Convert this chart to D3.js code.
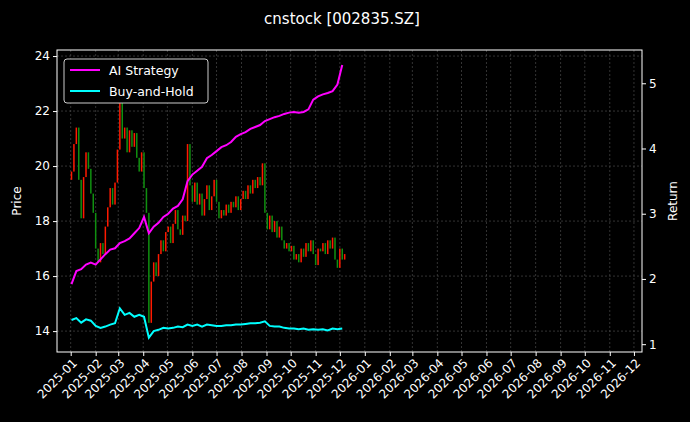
<!DOCTYPE html>
<html><head><meta charset="utf-8">
<script src="https://cdn.jsdelivr.net/npm/d3@7"></script>
<style>
body{margin:0;background:#000}
text{font-family:"DejaVu Sans",sans-serif;fill:#fff}
.grid line{stroke:#555;stroke-dasharray:2,2;stroke-width:0.6}
</style></head><body>
<script>
// daily-ish closes, one every 3 calendar days from 2025-01-02
const closes = [19.8,20.8,21.4,19.5,18.1,19.6,20.5,19.9,19.0,18.3,17.0,16.5,17.2,16.8,17.8,18.5,19.2,18.6,19.4,20.6,
  22.5,21.0,21.4,20.5,21.3,20.7,21.2,20.3,19.8,20.5,19.2,18.3,14.3,15.8,16.5,16.0,16.8,17.3,16.9,17.6,
  17.8,17.2,17.9,18.4,17.7,17.5,18.2,18.0,20.8,19.3,18.7,19.4,18.6,19.0,18.2,18.8,19.3,18.4,18.9,19.5,
  18.7,18.1,18.4,18.2,18.6,18.3,18.7,18.5,18.9,18.4,18.8,19.1,18.8,19.3,19.0,19.5,19.2,19.6,19.3,20.1,
  18.3,17.7,18.2,17.6,18.0,17.4,17.8,17.3,17.0,17.2,16.9,17.1,16.6,16.8,16.5,17.0,16.7,17.2,16.9,17.3,
  16.8,16.4,17.0,16.9,17.2,16.8,17.3,17.0,17.4,16.6,16.3,17.0,16.6,16.8];
// returns, one every 6 days from 2025-01-02
const aiStrategy = [1.92,2.12,2.15,2.22,2.25,2.22,2.3,2.38,2.45,2.47,2.55,2.58,2.62,2.7,2.78,2.95,2.7,2.8,2.86,2.95,
  3.0,3.08,3.12,3.22,3.5,3.6,3.66,3.72,3.85,3.9,3.96,4.02,4.05,4.1,4.18,4.22,4.25,4.3,4.33,4.36,
  4.42,4.45,4.48,4.5,4.53,4.55,4.56,4.55,4.56,4.6,4.75,4.8,4.83,4.85,4.88,4.98,5.28];
const buyHold = [1.37,1.4,1.33,1.38,1.36,1.28,1.25,1.27,1.3,1.32,1.55,1.45,1.48,1.42,1.45,1.42,1.1,1.2,1.22,1.25,
  1.24,1.25,1.27,1.26,1.3,1.28,1.3,1.27,1.3,1.29,1.28,1.28,1.29,1.29,1.3,1.3,1.31,1.32,1.32,1.33,1.35,
  1.28,1.27,1.27,1.25,1.24,1.24,1.23,1.24,1.22,1.23,1.22,1.23,1.21,1.24,1.23,1.24];
const priceTicks = [14,16,18,20,22,24];
const returnTicks = [1,2,3,4,5];

const W = 690, H = 422;
const m = {left:57, right:48, top:50, bottom:70};
const start = new Date(2025,0,2);
const day = (i, step) => d3.timeDay.offset(start, i*step);

const svg = d3.select('body').append('svg').attr('width',W).attr('height',H);
const x = d3.scaleTime().domain([new Date(2024,11,15), new Date(2026,11,11)]).range([m.left, W-m.right]);
const yP = d3.scaleLinear().domain([13.24,24.22]).range([H-m.bottom, m.top]);
const yR = d3.scaleLinear().domain([0.88,5.51]).range([H-m.bottom, m.top]);
const months = d3.timeMonth.range(new Date(2025,0,1), new Date(2026,11,2));

// grid
const g = svg.append('g').attr('class','grid');
g.selectAll('line.v').data(months).join('line').attr('class','v')
  .attr('x1',d=>x(d)).attr('x2',d=>x(d)).attr('y1',m.top).attr('y2',H-m.bottom);
g.selectAll('line.h').data(priceTicks).join('line').attr('class','h')
  .attr('x1',m.left).attr('x2',W-m.right).attr('y1',d=>yP(d)).attr('y2',d=>yP(d));

// candles
const candles = closes.map((c,i)=>({d:day(i,3), o: i ? closes[i-1] : 19.5, c}));
svg.append('g').selectAll('rect').data(candles).join('rect')
  .attr('x',d=>x(d.d)-0.75).attr('width',1.5)
  .attr('y',d=>yP(Math.max(d.o,d.c))).attr('height',d=>Math.max(1,Math.abs(yP(d.o)-yP(d.c))))
  .attr('fill',d=>d.c>=d.o ? '#ff1a00' : '#109010');

// return lines
const line = d3.line().x((d,i)=>x(day(i,6))).y(d=>yR(d));
svg.append('path').datum(buyHold).attr('d',line).attr('fill','none').attr('stroke','#00ffff').attr('stroke-width',2);
svg.append('path').datum(aiStrategy).attr('d',line).attr('fill','none').attr('stroke','#ff00ff').attr('stroke-width',2);

// frame
svg.append('rect').attr('x',m.left).attr('y',m.top).attr('width',W-m.left-m.right).attr('height',H-m.top-m.bottom)
  .attr('fill','none').attr('stroke','#fff').attr('stroke-width',1);

// axes
const ax = svg.append('g').attr('transform',`translate(0,${H-m.bottom})`)
  .call(d3.axisBottom(x).tickValues(months).tickFormat(d3.timeFormat('%Y-%m')).tickSize(4));
ax.selectAll('text').attr('transform','rotate(-45)').attr('text-anchor','end').attr('dx','-0.3em').attr('dy','0.5em');
const ay = svg.append('g').attr('transform',`translate(${m.left},0)`)
  .call(d3.axisLeft(yP).tickValues(priceTicks).tickSize(4));
const ar = svg.append('g').attr('transform',`translate(${W-m.right},0)`)
  .call(d3.axisRight(yR).tickValues(returnTicks).tickFormat(d3.format('d')).tickSize(4));
[ax,ay,ar].forEach(a=>{
  a.select('.domain').remove();
  a.selectAll('line').attr('stroke','#fff');
  a.selectAll('text').style('font-size','12px').attr('fill','#fff');
});

svg.append('text').attr('x',W/2 - 3).attr('y',24).attr('text-anchor','middle').style('font-size','15px').text('cnstock [002835.SZ]');
svg.append('text').attr('transform',`translate(21,${(m.top+H-m.bottom)/2}) rotate(-90)`).attr('text-anchor','middle').style('font-size','12px').text('Price');
svg.append('text').attr('transform',`translate(677,${(m.top+H-m.bottom)/2}) rotate(-90)`).attr('text-anchor','middle').style('font-size','12px').text('Return');

// legend
const lg = svg.append('g').attr('transform','translate(64,59)');
lg.append('rect').attr('width',144).attr('height',44).attr('rx',3).attr('fill','#000').attr('stroke','#ccc');
[['AI Strategy','#ff00ff'],['Buy-and-Hold','#00ffff']].forEach(([t,c],i)=>{
  lg.append('line').attr('x1',6).attr('x2',36).attr('y1',11+i*21).attr('y2',11+i*21).attr('stroke',c).attr('stroke-width',2);
  lg.append('text').attr('x',45).attr('y',16+i*21).style('font-size','12.5px').text(t);
});
</script>
</body></html>
